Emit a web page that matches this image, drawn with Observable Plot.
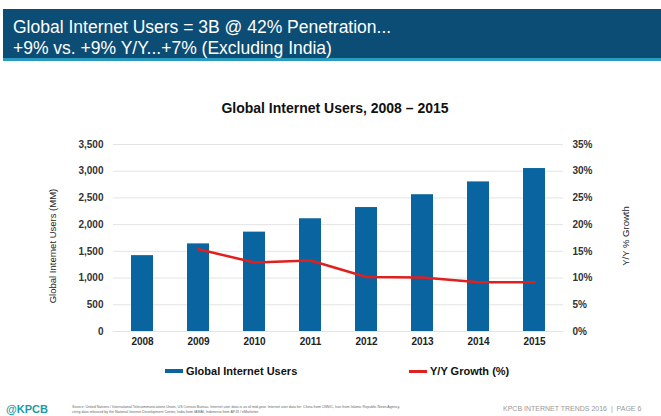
<!DOCTYPE html>
<html>
<head>
<meta charset="utf-8">
<script src="https://cdn.jsdelivr.net/npm/d3@7"></script>
<script src="https://cdn.jsdelivr.net/npm/@observablehq/plot@0.6"></script>
<style>
  html, body { margin: 0; padding: 0; background: #fff; }
  body { width: 661px; height: 416px; position: relative; overflow: hidden; font-family: "Liberation Sans", Arial, sans-serif; }
  #banner { position: absolute; left: 3px; top: 9px; width: 658px; height: 49px; background: #0b4d75; border-bottom: 3px solid #2a9cbf; color: #fff; }
  #banner div { position: absolute; left: 10px; font-size: 17.5px; white-space: nowrap; }
  #title { position: absolute; left: 0; width: 670px; top: 100px; text-align: center; font-weight: bold; font-size: 14px; color: #111; }
  #chart { position: absolute; left: 0; top: 124px; }
  .leg { position: absolute; top: 365px; font-size: 11px; font-weight: bold; color: #111; white-space: nowrap; }
  .sw { display: inline-block; vertical-align: middle; width: 18px; margin-right: 3px; position: relative; top: -1px; }
  #kpcb { position: absolute; left: 6px; top: 403px; color: #1a9aa8; font-weight: bold; font-size: 11px; }
  #src { position: absolute; left: 72px; top: 405px; font-size: 3.6px; line-height: 4.6px; color: #666; width: 330px; }
  #page { position: absolute; left: 503px; top: 405px; font-size: 7px; color: #999; white-space: nowrap; }
</style>
</head>
<body>
<div id="banner">
  <div style="top:8px">Global Internet Users = 3B @ 42% Penetration...</div>
  <div style="top:29px">+9% vs. +9% Y/Y...+7% (Excluding India)</div>
</div>
<div id="title">Global Internet Users, 2008 – 2015</div>
<div id="chart"></div>
<div class="leg" style="left:165px"><span class="sw" style="height:4px;background:#0a64a0"></span>Global Internet Users</div>
<div class="leg" style="left:409px"><span class="sw" style="height:3px;background:#e0201f"></span>Y/Y Growth (%)</div>
<div id="kpcb">@KPCB</div>
<div id="src">Source: United Nations / International Telecommunications Union, US Census Bureau. Internet user data is as of mid-year. Internet user data for: China from CNNIC, Iran from Islamic Republic News Agency, citing data released by the National Internet Development Center, India from IAMAI, Indonesia from APJII / eMarketer.</div>
<div id="page">KPCB INTERNET TRENDS 2016 &nbsp;|&nbsp; PAGE 6</div>
<script>
const years = ["2008", "2009", "2010", "2011", "2012", "2013", "2014", "2015"];
const users = [1420, 1640, 1860, 2110, 2320, 2560, 2800, 3050];
const growth = [null, 15.4, 12.9, 13.3, 10.2, 10.1, 9.2, 9.2];
const leftTicks = [0, 500, 1000, 1500, 2000, 2500, 3000, 3500];
const rightTickLabels = ["0%", "5%", "10%", "15%", "20%", "25%", "30%", "35%"];
const growthMax = 35;
const usersMax = 3500;

const data = years.map((y, i) => ({year: y, users: users[i], growth: growth[i]}));
const lineData = data.filter(d => d.growth != null);

const chart = Plot.plot({
  width: 661,
  height: 236,
  marginLeft: 113,
  marginRight: 98,
  marginTop: 20,
  marginBottom: 29,
  style: {fontFamily: "Liberation Sans, Arial, sans-serif", color: "#333", background: "transparent"},
  x: {domain: years, paddingInner: 0.6, paddingOuter: 0.3, label: null},
  y: {domain: [0, usersMax], label: null},
  marks: [
    Plot.gridY(leftTicks, {stroke: "#e4e4e4", strokeOpacity: 1}),
    Plot.barY(data, {x: "year", y: "users", fill: "#0a64a0"}),
    Plot.line(lineData, {x: "year", y: d => d.growth * usersMax / growthMax, stroke: "#e0201f", strokeWidth: 2.5, curve: "linear"}),
    Plot.axisY({ticks: leftTicks, tickSize: 0, tickPadding: 10, tickFormat: d3.format(","), label: null, fontWeight: "bold", fontSize: 10, fill: "#333"}),
    Plot.axisY({anchor: "right", ticks: leftTicks, tickSize: 0, tickPadding: 9, tickFormat: d => rightTickLabels[leftTicks.indexOf(d)], label: null, fontWeight: "bold", fontSize: 10, fill: "#333"}),
    Plot.axisX({tickSize: 0, tickPadding: 6, label: null, fontWeight: "bold", fontSize: 10, fill: "#222"}),
    Plot.text(["Global Internet Users (MM)"], {frameAnchor: "left", textAnchor: "middle", rotate: -90, dx: -61, dy: 8, fontSize: 9.5, fill: "#222"}),
    Plot.text(["Y/Y % Growth"], {frameAnchor: "right", textAnchor: "middle", rotate: -90, dx: 62, dy: -2, fontSize: 9.5, fill: "#222"})
  ]
});
document.getElementById("chart").appendChild(chart);
</script>
</body>
</html>
